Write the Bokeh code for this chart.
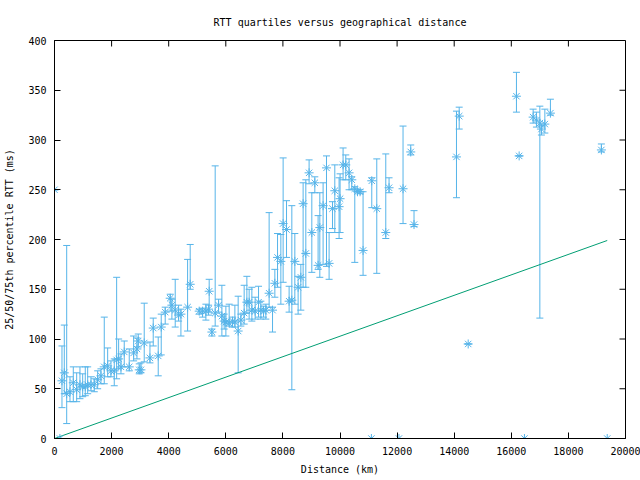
import math
from bokeh.plotting import figure
from bokeh.models import ColumnDataSource, Whisker, TeeHead, Range1d, LinearAxis
from bokeh.embed import file_html
from bokeh.resources import INLINE

title_text = "RTT quartiles versus geographical distance"
x_label = "Distance (km)"
y_label = "25/50/75th percentile RTT (ms)"

dist_km = [0, 189, 262, 343, 427, 542, 658, 777, 892, 987, 1078, 1162, 1277, 1393, 1512,
           1627, 1743, 1862, 1977, 2093, 2177, 2247, 2328, 2443, 2618, 2772, 2888, 2933,
           2968, 3028, 3143, 3343, 3458, 3633, 3738, 3878, 4053, 4112, 4228, 4347, 4428,
           4662, 4753, 5068, 5187, 5303, 5397, 5418, 5513, 5628, 5747, 5863, 5943, 6003,
           6118, 6237, 6318, 6433, 6528, 6643, 6738, 6818, 6913, 7028, 7147, 7228, 7322,
           7403, 7518, 7637, 7718, 7812, 7928, 8008, 8127, 8218, 8313, 8418, 8533, 8628,
           8708, 8803, 8918, 9013, 9118, 9233, 9293, 9408, 9527, 9618, 9737, 9818, 9968,
           10003, 10108, 10203, 10318, 10413, 10518, 10612, 10703, 10808, 11100, 11113,
           11288, 11603, 11718, 12065, 12208, 12478, 12593, 14080, 14175, 14490, 16180,
           16275, 16460, 16765, 16880, 17000, 17055, 17175, 17370, 19155, 19360]
rtt_median = [250, 0, 58, 66, 45, 47, 56, 49, 54, 52, 52, 54, 54, 54, 59,
              63, 72, 73, 68, 68, 79, 80, 72, 87, 72, 86, 90, 98,
              69, 69, 96, 81, 111, 83, 112, 127, 141, 134, 129, 124, 125,
              132, 155, 128, 128, 128, 130, 148, 107, 126, 134, 123, 118, 117,
              116, 118, 117, 108, 119, 126, 137, 137, 129, 128, 137, 129, 128,
              129, 146, 129, 156, 182, 178, 216, 210, 138, 139, 178, 152, 162,
              236, 186, 267, 207, 257, 174, 212, 234, 272, 176, 231, 249, 233,
              241, 275, 275, 267, 260, 251, 248, 248, 189, 0, 259,
              231, 207, 252, 0, 251, 288, 215, 283, 324, 95, 344,
              284, 0, 323, 320, 317, 311, 316, 327, 290, 0]
rtt_q25 = [250, 0, 31, 45, 15, 37, 37, 37, 40, 42, 43, 45, 48, 47, 50,
           55, 55, 62, 62, 53, 60, 70, 65, 72, 68, 78, 80, 92,
           65, 66, 77, 76, 93, 63, 84, 115, 128, 120, 112, 118, 103,
           108, 150, 125, 122, 119, 124, 127, 103, 113, 127, 103, 110, 103,
           113, 112, 112, 66, 113, 115, 126, 120, 118, 120, 122, 120, 122,
           120, 132, 107, 142, 152, 135, 157, 182, 127, 49, 135, 125, 129,
           152, 152, 256, 167, 247, 170, 162, 175, 173, 160, 211, 207, 201,
           207, 260, 260, 250, 250, 177, 248, 246, 164, 0, 232,
           166, 201, 247, 0, 216, 285, 213, 242, 311, 95, 328,
           284, 0, 317, 313, 121, 305, 307, 325, 288, 0]
rtt_q75 = [250, 0, 93, 114, 194, 62, 72, 66, 72, 65, 72, 72, 62, 60, 68,
           70, 122, 91, 78, 80, 162, 100, 85, 98, 90, 103, 101, 105,
           75, 76, 136, 97, 121, 102, 125, 132, 145, 140, 160, 134, 130,
           180, 195, 130, 131, 135, 134, 160, 110, 274, 140, 154, 125, 133,
           135, 122, 134, 143, 125, 154, 163, 150, 152, 142, 153, 138, 133,
           135, 227, 132, 170, 206, 205, 282, 239, 153, 234, 206, 163, 175,
           257, 260, 280, 247, 263, 224, 247, 257, 284, 207, 238, 275, 262,
           266, 292, 285, 281, 263, 253, 250, 250, 248, 0, 262,
           281, 286, 262, 0, 314, 295, 229, 329, 333, 95, 368,
           284, 0, 331, 328, 334, 315, 331, 341, 296, 0]

bound_km = [0, 19360]
bound_ms = [0, 199]

x_ticks = [0, 2000, 4000, 6000, 8000, 10000, 12000, 14000, 16000, 18000, 20000]
y_ticks = [0, 50, 100, 150, 200, 250, 300, 350, 400]
x_min, x_max = 0, 20000
y_min, y_max = 0, 400

BLUE = "#56B4E9"
GREEN = "#009E73"
FONT = "DejaVu Sans Mono"
TICK = 6

src = ColumnDataSource(dict(x=dist_km, med=rtt_median, lo=rtt_q25, hi=rtt_q75))

p = figure(width=640, height=480, output_backend="svg", toolbar_location=None,
           x_range=Range1d(x_min, x_max), y_range=Range1d(y_min, y_max),
           title=title_text, x_axis_location=None, y_axis_location=None)
p.min_border_left = 54
p.min_border_right = 15
p.min_border_top = 40
p.min_border_bottom = 42
p.grid.visible = False
p.outline_line_color = "black"
p.outline_line_width = 1
p.background_fill_color = "white"
p.border_fill_color = "white"

p.title.text_font = FONT
p.title.text_font_size = "10px"
p.title.text_font_style = "normal"
p.title.align = "center"
p.title.text_color = "black"
p.title.standoff = 25


def style_axis(ax):
    ax.major_tick_in = TICK
    ax.major_tick_out = 0
    ax.minor_tick_in = 0
    ax.minor_tick_out = 0
    ax.axis_line_color = "black"
    ax.major_tick_line_color = "black"
    ax.major_label_text_font = FONT
    ax.major_label_text_font_size = "10px"
    ax.major_label_text_color = "black"
    ax.major_label_standoff = 8
    ax.axis_label_text_font = FONT
    ax.axis_label_text_font_size = "10px"
    ax.axis_label_text_font_style = "normal"
    ax.axis_label_text_color = "black"


bottom = LinearAxis(axis_label=x_label)
bottom.ticker = x_ticks
style_axis(bottom)
bottom.axis_label_standoff = 6
left = LinearAxis(axis_label=y_label)
left.ticker = y_ticks
style_axis(left)
left.axis_label_standoff = 10
p.add_layout(bottom, "below")
p.add_layout(left, "left")

# mirrored ticks on the top and right edges of the frame
p.ray(x=x_ticks, y=[y_max] * len(x_ticks), length=TICK, length_units="screen",
      angle=-math.pi / 2, line_color="black", line_width=1)
p.ray(x=[x_max] * len(y_ticks), y=y_ticks, length=TICK, length_units="screen",
      angle=math.pi, line_color="black", line_width=1)

p.line(bound_km, bound_ms, line_color=GREEN, line_width=1)

wh = Whisker(source=src, base="x", lower="lo", upper="hi", line_color=BLUE, line_width=1,
             upper_head=TeeHead(size=7, line_color=BLUE, line_width=1),
             lower_head=TeeHead(size=7, line_color=BLUE, line_width=1))
p.add_layout(wh)

p.scatter("x", "med", source=src, marker="asterisk", size=9, line_color=BLUE, line_width=1)

open("out.html", "w").write(file_html(p, INLINE))
